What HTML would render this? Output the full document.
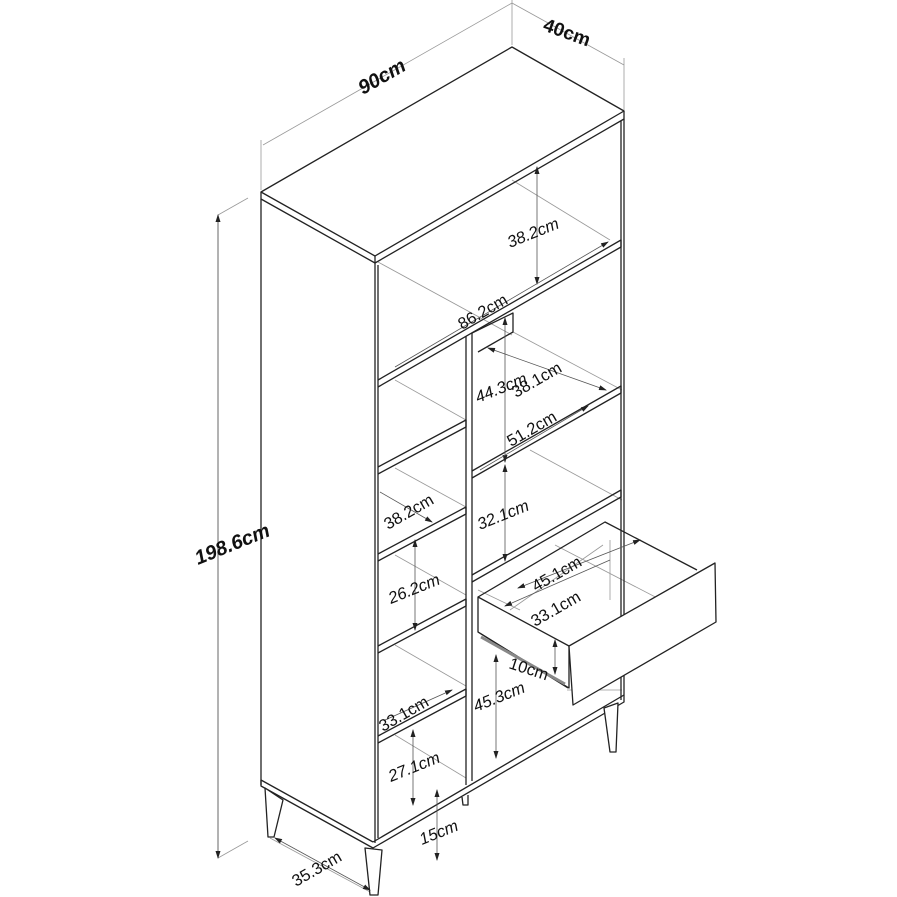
<!DOCTYPE html>
<html><head><meta charset="utf-8"><style>
html,body{margin:0;padding:0;background:#fff;}
svg{display:block}
text{font-family:"Liberation Sans",sans-serif;fill:#111;}
</style></head><body>
<svg width="897" height="897" viewBox="0 0 897 897" xmlns="http://www.w3.org/2000/svg">
<defs>
<marker id="a" markerWidth="8" markerHeight="8" refX="7" refY="4" orient="auto-start-reverse" markerUnits="userSpaceOnUse"><path d="M0,1.5 L8,4 L0,6.5" fill="#222"/></marker>
</defs>
<g fill="none" stroke="#999" stroke-width="0.8">
<line x1="261" y1="190" x2="261" y2="140"/>
<line x1="512" y1="45" x2="512" y2="0"/>
<line x1="624" y1="110" x2="624" y2="58"/>
<line x1="263" y1="145" x2="512" y2="3"/>
<line x1="512" y1="3" x2="624" y2="65"/>
<line x1="218" y1="215" x2="248" y2="198"/>
<line x1="218" y1="858" x2="248" y2="841"/>
<line x1="218" y1="215" x2="218" y2="858"/>
<line x1="270" y1="838" x2="372" y2="893"/>
<line x1="378" y1="262" x2="512" y2="335"/>
<line x1="512" y1="180" x2="610" y2="240"/>
<line x1="395" y1="380" x2="466" y2="420"/>
<line x1="395" y1="468" x2="466" y2="507"/>
<line x1="395" y1="555" x2="466" y2="595"/>
<line x1="395" y1="645" x2="466" y2="686"/>
<line x1="395" y1="735" x2="466" y2="778"/>
<line x1="513" y1="332" x2="622" y2="390"/>
<line x1="530" y1="450" x2="622" y2="500"/>
<line x1="478" y1="590" x2="520" y2="610"/>
<line x1="567" y1="690" x2="622" y2="690"/>
<line x1="610" y1="540" x2="610" y2="600"/>
<line x1="555" y1="545" x2="690" y2="615"/>
<line x1="510" y1="610" x2="603" y2="545"/>
</g>
<g fill="none" stroke="#222" stroke-width="1.3" stroke-linejoin="round">
<polygon points="261,192 512,47 624,111 375,256" fill="#fff"/>
<polyline points="261,192 261,199 375,263 624,119 624,111"/>
<line x1="375" y1="256" x2="375" y2="263"/>
<line x1="261" y1="199" x2="261" y2="785"/>
<line x1="375" y1="263" x2="375" y2="843"/>
<line x1="378" y1="265" x2="378" y2="838"/>
<line x1="621" y1="121" x2="621" y2="700"/>
<line x1="624" y1="119" x2="624" y2="695"/>
<polyline points="261,780 261,786 373,848 624,702 624,695"/>
<line x1="261" y1="780" x2="373" y2="842"/>
<line x1="373" y1="842" x2="624" y2="695"/>
<polygon points="265,788 268,837 274,837 283,800" fill="#fff"/>
<polygon points="365,848 370,895 378,895 382,850" fill="#fff"/>
<polygon points="604,708 610,752 616,752 618,703" fill="#fff"/>
<polyline points="462,797 463,805 468,805 468,795"/>
<polyline points="378,380 621,240 621,247 378,387"/>
<line x1="466" y1="336" x2="466" y2="785"/>
<line x1="472" y1="333" x2="472" y2="781"/>
<polyline points="472,333 513,313 513,332 478,352"/>
<polyline points="378,467 466,420 466,427 378,474"/>
<polyline points="378,554 466,507 466,514 378,561"/>
<polyline points="378,646 466,599 466,606 378,653"/>
<polyline points="378,736 466,689 466,696 378,743"/>
<polyline points="472,471 621,386 621,393 472,478"/>
<polyline points="472,575 621,490 621,497 472,582"/>
<polyline points="478,597 605,522 697,570"/>
<polygon points="478,597 569,646 569,688 478,632" fill="#fff"/>
<polygon points="569,646 715,563 716,622 573,705" fill="#fff"/>
<line x1="478" y1="632" x2="568" y2="688"/>
<line x1="481" y1="637" x2="565" y2="684" stroke="#888" stroke-width="3"/>
</g>
<g stroke="#555" stroke-width="0.8" fill="none">
<line x1="537" y1="167" x2="537" y2="284" marker-start="url(#a)" marker-end="url(#a)"/>
<line x1="395" y1="367" x2="608" y2="242" marker-end="url(#a)"/>
<line x1="505" y1="318" x2="505" y2="462" marker-start="url(#a)" marker-end="url(#a)"/>
<line x1="488" y1="348" x2="606" y2="390" marker-start="url(#a)" marker-end="url(#a)"/>
<line x1="480" y1="470" x2="588" y2="406" marker-end="url(#a)"/>
<line x1="505" y1="465" x2="505" y2="561" marker-start="url(#a)" marker-end="url(#a)"/>
<line x1="380" y1="492" x2="432" y2="522" marker-end="url(#a)"/>
<line x1="415" y1="540" x2="415" y2="630" marker-start="url(#a)" marker-end="url(#a)"/>
<line x1="385" y1="720" x2="452" y2="690" marker-end="url(#a)"/>
<line x1="413" y1="730" x2="413" y2="805" marker-start="url(#a)" marker-end="url(#a)"/>
<line x1="518" y1="588" x2="640" y2="540" marker-start="url(#a)" marker-end="url(#a)"/>
<line x1="505" y1="606" x2="610" y2="560" marker-start="url(#a)"/>
<line x1="555" y1="640" x2="555" y2="674" marker-start="url(#a)" marker-end="url(#a)"/>
<line x1="496" y1="655" x2="496" y2="758" marker-start="url(#a)" marker-end="url(#a)"/>
<line x1="437" y1="790" x2="437" y2="860" marker-start="url(#a)" marker-end="url(#a)"/>
<line x1="275" y1="838" x2="370" y2="890" marker-start="url(#a)" marker-end="url(#a)"/>
<line x1="218" y1="215" x2="218" y2="858" marker-start="url(#a)" marker-end="url(#a)"/>
</g>
<g font-size="16.5">
<text transform="translate(363,95) rotate(-30)" font-weight="bold" font-style="italic" font-size="20">90cm</text>
<text transform="translate(542,30) rotate(20)" font-weight="bold" font-size="19">40cm</text>
<text transform="translate(198,565) rotate(-22)" font-weight="bold" font-style="italic" font-size="20">198.6cm</text>
<text transform="translate(510,248) rotate(-22)" font-style="italic">38.2cm</text>
<text transform="translate(462,330) rotate(-30)">86.2cm</text>
<text transform="translate(478,403) rotate(-22)" font-style="italic">44.3cm</text>
<text transform="translate(516,398) rotate(-30)">38.1cm</text>
<text transform="translate(511,447) rotate(-30)">51.2cm</text>
<text transform="translate(388,530) rotate(-30)">38.2cm</text>
<text transform="translate(480,530) rotate(-22)" font-style="italic">32.1cm</text>
<text transform="translate(391,604) rotate(-22)" font-style="italic">26.2cm</text>
<text transform="translate(536,592) rotate(-30)">45.1cm</text>
<text transform="translate(535,627) rotate(-30)">33.1cm</text>
<text transform="translate(508,668) rotate(18)">10cm</text>
<text transform="translate(476,712) rotate(-22)" font-style="italic">45.3cm</text>
<text transform="translate(383,732) rotate(-30)">33.1cm</text>
<text transform="translate(391,782) rotate(-22)" font-style="italic">27.1cm</text>
<text transform="translate(422,845) rotate(-22)" font-style="italic">15cm</text>
<text transform="translate(296,887) rotate(-30)">35.3cm</text>
</g>
</svg>
</body></html>
